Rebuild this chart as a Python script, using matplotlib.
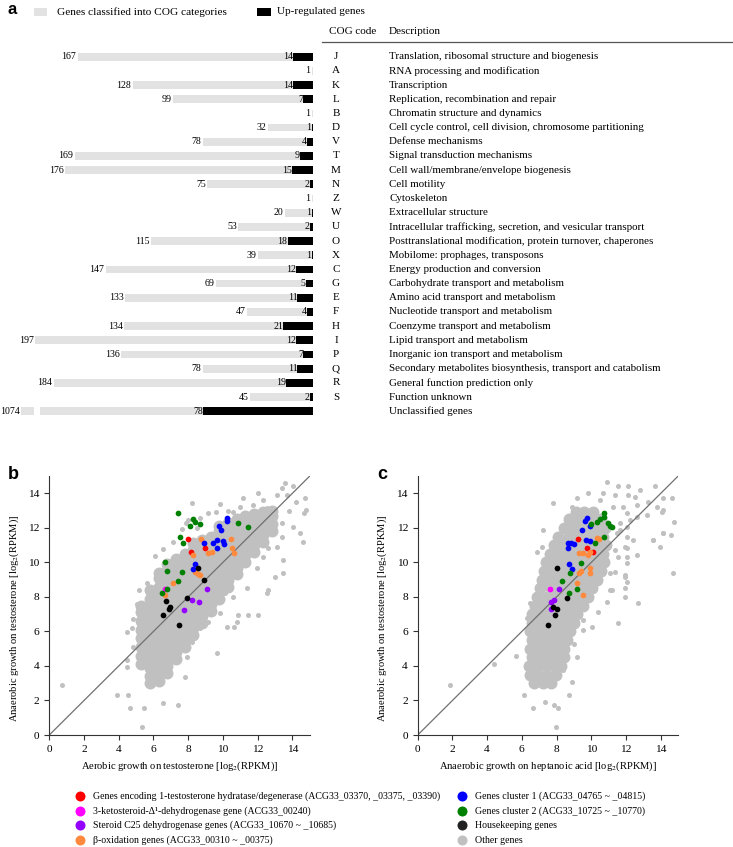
import matplotlib
matplotlib.use('Agg')
import matplotlib.pyplot as plt
from matplotlib.patches import Rectangle
from matplotlib.lines import Line2D
from matplotlib.transforms import blended_transform_factory

plt.rcParams['font.family'] = ['Liberation Serif', 'DejaVu Serif']
plt.rcParams['mathtext.fontset'] = 'stix'

# ---------------- data: panel a ----------------
cog_codes = ['J', 'A', 'K', 'L', 'B', 'D', 'V', 'T', 'M', 'N', 'Z', 'W', 'U',
             'O', 'X', 'C', 'G', 'E', 'F', 'H', 'I', 'P', 'Q', 'R', 'S', '']
cog_desc = ['Translation, ribosomal structure and biogenesis',
            'RNA processing and modification',
            'Transcription',
            'Replication, recombination and repair',
            'Chromatin structure and dynamics',
            'Cell cycle control, cell division, chromosome partitioning',
            'Defense mechanisms',
            'Signal transduction mechanisms',
            'Cell wall/membrane/envelope biogenesis',
            'Cell motility',
            'Cytoskeleton',
            'Extracellular structure',
            'Intracellular trafficking, secretion, and vesicular transport',
            'Posttranslational modification, protein turnover, chaperones',
            'Mobilome: prophages, transposons',
            'Energy production and conversion',
            'Carbohydrate transport and metabolism',
            'Amino acid transport and metabolism',
            'Nucleotide transport and metabolism',
            'Coenzyme transport and metabolism',
            'Lipid transport and metabolism',
            'Inorganic ion transport and metabolism',
            'Secondary metabolites biosynthesis, transport and catabolism',
            'General function prediction only',
            'Function unknown',
            'Unclassified genes']
cog_total = [167, 1, 128, 99, 1, 32, 78, 169, 176, 75, 1, 20, 53, 115, 39,
             147, 69, 133, 47, 134, 197, 136, 78, 184, 45, 1074]
cog_up = [14, 0, 14, 7, 0, 1, 4, 9, 15, 2, 0, 1, 2, 18, 1, 12, 5, 11, 4, 21,
          12, 7, 11, 19, 2, 78]

# ---------------- data: panels b and c (colored genes) ----------------
b_red = [(8.0, 11.35), (8.18, 10.6), (8.97, 10.82)]
b_magenta = [(6.68, 8.45)]
b_purple = [(9.07, 8.44), (8.24, 7.85), (8.64, 7.7), (7.77, 7.27)]
b_orange = [(8.73, 11.34), (8.3, 10.42), (9.13, 10.55), (9.4, 10.62), (10.45, 11.37),
            (10.5, 10.82), (10.62, 10.52), (8.42, 9.42), (8.68, 9.27), (8.55, 9.35),
            (7.1, 8.78), (6.64, 8.11)]
b_blue = [(10.22, 12.58), (10.26, 12.42), (9.79, 12.13), (9.88, 11.86), (8.92, 11.15),
          (9.41, 11.14), (9.64, 11.3), (10.01, 11.25), (10.05, 11.08), (9.68, 10.83),
          (8.39, 9.9), (8.25, 9.63)]
b_green = [(7.43, 12.84), (8.26, 12.5), (8.39, 12.36), (8.1, 12.13), (8.68, 12.21),
           (10.85, 12.3), (11.46, 12.03), (7.53, 11.45), (7.72, 11.14), (6.66, 10.02),
           (6.76, 9.52), (7.63, 9.43), (7.43, 8.94), (6.5, 8.2), (6.76, 8.45)]
b_black = [(8.58, 9.67), (8.92, 8.96), (7.91, 7.93), (6.7, 7.75), (6.93, 7.4),
           (6.92, 7.3), (6.57, 6.95), (7.47, 6.37)]

c_red = [(9.26, 11.34), (9.74, 10.82), (10.12, 10.62)]
c_magenta = [(7.6, 8.45)]
c_purple = [(8.16, 8.45), (7.87, 7.85), (7.66, 7.72), (7.66, 7.28)]
c_orange = [(10.3, 11.39), (10.47, 11.33), (9.31, 10.56), (9.54, 10.56), (9.83, 10.42),
            (9.93, 10.6), (9.93, 9.69), (9.93, 9.36), (9.31, 9.4), (9.4, 9.5),
            (9.16, 8.82), (9.51, 8.11)]
c_blue = [(9.73, 12.57), (9.65, 12.42), (9.9, 12.12), (9.47, 11.85), (8.85, 11.15),
          (8.68, 11.1), (8.98, 11.08), (8.68, 10.82), (9.72, 11.28), (9.93, 11.24),
          (8.7, 9.92), (8.88, 9.62)]
c_green = [(10.73, 12.84), (10.75, 12.65), (10.35, 12.36), (10.5, 12.5), (9.99, 12.22),
           (10.98, 12.26), (11.08, 12.13), (11.17, 12.03), (10.75, 11.45), (10.21, 11.1),
           (9.38, 9.99), (8.77, 9.4), (8.33, 8.94), (9.2, 8.46), (8.73, 8.21)]
c_black = [(8.05, 9.69), (8.58, 7.94), (7.78, 7.42), (8.0, 7.28), (7.9, 6.95), (7.48, 6.37)]

# ---------------- data: other genes (dense core read as columns / rows) ----------------
b_core_cols = [
    (5.3, [4.1, 4.6, 5.1, 5.6, 6.1, 6.6, 7.1, 7.5]),
    (5.8, [3.0, 3.4, 3.9, 4.4, 4.9, 5.4, 5.9, 6.4, 6.9, 7.4, 7.9, 8.4]),
    (6.3, [3.1, 3.6, 4.1, 4.6, 5.1, 5.6, 6.1, 6.6, 7.1, 7.6, 8.1, 8.6, 9.1, 9.4]),
    (6.8, [3.6, 4.0, 4.5, 5.0, 5.5, 6.0, 6.5, 7.0, 7.5, 8.0, 8.5, 9.0, 9.5, 9.9]),
    (7.3, [4.4, 4.8, 5.3, 5.8, 6.3, 6.8, 7.3, 7.8, 8.3, 8.8, 9.3, 9.8, 10.2]),
    (7.8, [5.1, 5.5, 6.0, 6.5, 7.0, 7.5, 8.0, 8.5, 9.0, 9.5, 10.0, 10.5]),
    (8.3, [5.8, 6.2, 6.7, 7.2, 7.7, 8.2, 8.7, 9.2, 9.7, 10.2, 10.7, 11.1]),
    (8.8, [6.5, 6.9, 7.4, 7.9, 8.4, 8.9, 9.4, 9.9, 10.4, 10.9, 11.3]),
    (9.3, [7.2, 7.6, 8.1, 8.6, 9.1, 9.6, 10.1, 10.6, 11.1, 11.5]),
    (9.8, [7.9, 8.3, 8.8, 9.3, 9.8, 10.3, 10.8, 11.3, 11.8, 12.1]),
    (10.3, [8.6, 9.0, 9.5, 10.0, 10.5, 11.0, 11.5, 12.0, 12.3]),
    (10.8, [9.3, 9.7, 10.2, 10.7, 11.2, 11.7, 12.2, 12.5]),
    (11.3, [10.0, 10.4, 10.9, 11.4, 11.9, 12.4, 12.7]),
    (11.8, [10.6, 11.0, 11.5, 12.0, 12.5, 12.8]),
    (12.3, [11.2, 11.6, 12.1, 12.6, 12.9]),
    (12.8, [11.8, 12.2, 12.7, 13.0]),
]
b_sparse = [(13.58, 14.58), (14.06, 14.42), (13.39, 14.29), (12.04, 14.0), (13.1, 13.9),
            (13.67, 13.9), (11.14, 13.71), (10.6, 12.93), (9.83, 13.38), (9.16, 12.84),
            (8.2, 13.42), (11.75, 13.32), (12.52, 13.13), (12.33, 13.61), (14.73, 13.71),
            (14.79, 13.03), (14.67, 12.84), (14.06, 12.07), (14.44, 11.68), (14.6, 11.2),
            (13.39, 11.49), (13.1, 10.91), (13.48, 10.14), (13.44, 9.4), (13.0, 9.17),
            (12.62, 8.4), (12.52, 8.2), (12.04, 6.95), (11.46, 6.95), (10.89, 6.95),
            (10.79, 6.56), (10.66, 6.27), (10.22, 6.27), (9.64, 4.73), (9.16, 6.56),
            (9.83, 7.05), (10.6, 8.01), (11.37, 8.49), (11.94, 9.65), (12.33, 10.33),
            (12.62, 10.81), (12.14, 11.2), (12.9, 12.07), (13.39, 12.26), (12.52, 11.78),
            (11.75, 11.49), (11.37, 10.91), (10.99, 10.14), (10.7, 9.46), (10.41, 8.98),
            (10.12, 8.2), (9.83, 7.92), (9.26, 7.24), (8.78, 6.76), (8.68, 6.18),
            (8.2, 5.41), (7.91, 4.54), (7.82, 3.38), (7.43, 1.74), (6.57, 1.87),
            (5.45, 1.54), (5.32, 0.44), (4.65, 1.54), (4.55, 2.32), (3.88, 2.32),
            (0.73, 2.9), (4.49, 3.96), (4.46, 4.34), (4.84, 5.12), (4.46, 5.98),
            (4.74, 6.18), (4.84, 6.7), (5.19, 8.4), (5.61, 8.78), (6.09, 10.37),
            (6.57, 10.75), (7.14, 11.2), (7.62, 11.91), (8.0, 12.45), (6.18, 8.98),
            (5.9, 8.2), (6.76, 9.56), (8.7, 12.6), (9.6, 12.9), (10.3, 13.0),
            (11.0, 13.2), (13.8, 13.0), (14.2, 13.5), (13.0, 12.9), (7.9, 12.3),
            (8.5, 12.0), (5.05, 7.6)]

c_core_rows = [
    (3.0, [6.7, 7.2, 7.7]),
    (3.5, [6.45, 6.95, 7.45, 7.95]),
    (4.0, [6.4, 6.9, 7.4, 7.9, 8.25]),
    (4.5, [6.6, 7.1, 7.6, 8.1, 8.45]),
    (5.0, [6.45, 6.95, 7.45, 7.95, 8.45]),
    (5.5, [6.6, 7.1, 7.6, 8.1, 8.6]),
    (6.0, [6.45, 6.95, 7.45, 7.95, 8.45, 8.8]),
    (6.5, [6.6, 7.1, 7.6, 8.1, 8.6, 9.0]),
    (7.0, [6.6, 6.95, 7.45, 7.95, 8.45, 8.95, 9.2]),
    (7.5, [6.75, 7.2, 7.7, 8.2, 8.7, 9.2, 9.5]),
    (8.0, [6.9, 7.45, 7.95, 8.45, 8.95, 9.45, 9.8]),
    (8.5, [7.05, 7.7, 8.2, 8.7, 9.2, 9.7, 10.05]),
    (9.0, [7.15, 7.45, 7.95, 8.45, 8.95, 9.45, 9.95, 10.35]),
    (9.5, [7.25, 7.7, 8.2, 8.7, 9.2, 9.7, 10.2, 10.55]),
    (10.0, [7.4, 7.95, 8.45, 8.95, 9.45, 9.95, 10.45, 10.75]),
    (10.5, [7.6, 8.2, 8.7, 9.2, 9.7, 10.2, 10.65]),
    (11.0, [7.85, 8.45, 8.95, 9.45, 9.95, 10.45, 10.85]),
    (11.5, [8.1, 8.7, 9.2, 9.7, 10.2, 10.7]),
    (12.0, [8.4, 8.95, 9.45, 9.95, 10.45, 10.8]),
    (12.5, [8.7, 9.2, 9.7, 10.2, 10.55]),
    (12.9, [9.1, 9.6, 10.1]),
]
c_sparse = [(10.89, 14.67), (11.56, 14.42), (12.14, 14.42), (12.81, 14.19), (13.67, 14.42),
            (14.15, 13.71), (13.77, 13.22), (14.63, 13.71), (14.77, 12.36), (14.6, 11.58),
            (14.15, 11.68), (13.58, 11.29), (14.1, 12.93), (13.19, 12.74), (12.62, 12.64),
            (12.23, 12.45), (11.85, 13.22), (11.37, 13.9), (10.7, 14.0), (10.5, 13.6),
            (9.83, 14.0), (9.16, 13.71), (8.87, 13.22), (7.82, 13.46), (7.24, 11.87),
            (7.14, 10.91), (6.86, 10.62), (6.86, 8.59), (6.47, 7.63), (6.28, 6.76),
            (5.65, 4.58), (4.4, 4.11), (1.86, 2.9), (6.13, 2.32), (6.63, 1.54),
            (7.34, 1.93), (7.85, 1.74), (8.1, 1.54), (7.95, 0.44), (8.72, 2.32),
            (8.87, 3.09), (8.39, 3.76), (9.16, 4.54), (9.0, 5.3), (9.54, 6.08),
            (10.02, 6.27), (10.41, 7.14), (9.54, 6.66), (10.89, 7.72), (11.08, 8.4),
            (11.56, 6.47), (11.94, 8.01), (11.94, 8.5), (12.04, 8.88), (11.94, 9.27),
            (11.37, 9.46), (12.71, 7.66), (11.37, 10.71), (12.04, 10.81), (12.43, 11.29),
            (12.04, 11.49), (11.66, 11.87), (12.62, 10.42), (12.04, 10.33), (14.73, 9.4),
            (13.96, 10.91), (11.27, 13.22), (12.04, 12.07), (12.14, 13.9), (12.52, 13.8),
            (13.29, 13.51), (12.61, 13.33), (12.04, 12.84), (11.65, 12.26), (11.46, 11.68),
            (11.94, 10.91), (11.56, 10.33), (12.04, 9.95), (11.94, 9.17), (11.17, 8.4),
            (11.08, 9.37), (14.13, 11.7), (13.56, 11.3), (14.15, 13.04)]

# ---------------- layout helpers (pixels -> figure fraction) ----------------
W, H = 733, 847
fig = plt.figure(figsize=(W / 100, H / 100), dpi=100)


def fx(px):
    return px / W


def fy(py):
    return 1 - py / H


BAR_GRAY = '#e2e2e2'
DOT_GRAY = '#c0c0c0'

# ---------------- panel a ----------------
row_top, row_step = 56.7, 14.18
n_rows = len(cog_codes)
ax_top = row_top - 0.5 * row_step
ax_bot = row_top + (n_rows - 0.5) * row_step
ax_a = fig.add_axes([0, fy(ax_bot), fx(313), (ax_bot - ax_top) / H])
px_per_unit = 1.41
ax_a.set_xlim(313 / px_per_unit, 0)
ax_a.set_ylim(n_rows - 0.5, -0.5)
ax_a.axis('off')

bh = 0.55
lab_fs = 7.1
for i, (tot, up) in enumerate(zip(cog_total, cog_up)):
    if cog_codes[i] == '':
        # broken bar for the unclassified genes
        ax_a.barh(i, 193.6, height=bh, color=BAR_GRAY, lw=0)
        ax_a.barh(i, 207.0 - 198.2, left=198.2, height=bh, color=BAR_GRAY, lw=0)
        tot_end = 207.0
    else:
        ax_a.barh(i, tot, height=bh, color=BAR_GRAY, lw=0)
        tot_end = tot
    ax_a.text(tot_end + 1.0, i, str(tot), ha='right', va='center', fontsize=lab_fs)
    if up > 0:
        ax_a.barh(i, up, height=bh, color='black', lw=0)
        ax_a.text(up + 0.2, i, str(up), ha='right', va='center', fontsize=lab_fs)

tr = blended_transform_factory(fig.transFigure, ax_a.transData)
for i, (code, desc) in enumerate(zip(cog_codes, cog_desc)):
    ax_a.text(fx(336), i, code, transform=tr, ha='center', va='center', fontsize=8.0)
    ax_a.text(fx(389), i, desc, transform=tr, ha='left', va='center', fontsize=7.9)

# panel a legend and header
fig.text(fx(7), fy(9), 'a', fontsize=12, fontweight='bold', family='Liberation Sans',
         ha='left', va='center')
fig.add_artist(Rectangle((fx(34), fy(16)), fx(13), 8 / H, transform=fig.transFigure,
                         color=BAR_GRAY, lw=0))
fig.text(fx(57), fy(12), 'Genes classified into COG categories', fontsize=8.1, va='center')
fig.add_artist(Rectangle((fx(257), fy(16)), fx(14), 8 / H, transform=fig.transFigure,
                         color='black', lw=0))
fig.text(fx(277), fy(12), 'Up-regulated genes', fontsize=8.1, va='center')
fig.text(fx(329), fy(31), 'COG code', fontsize=8.0, va='center')
fig.text(fx(389), fy(31), 'Description', fontsize=8.0, va='center')
fig.add_artist(Line2D([fx(322), 1.0], [fy(41.7), fy(41.7)], transform=fig.transFigure,
                      color='#555555', lw=0.9))


# ---------------- panels b and c ----------------
def draw_scatter(ax, core_pts, sparse_pts, colored, xlabel, letter, letter_px):
    cx = [p[0] for p in core_pts]
    cy = [p[1] for p in core_pts]
    ax.scatter(cx, cy, s=74, color=DOT_GRAY, lw=0, zorder=1)
    sx = [p[0] for p in sparse_pts]
    sy = [p[1] for p in sparse_pts]
    ax.scatter(sx, sy, s=13, color=DOT_GRAY, lw=0, zorder=1)
    ax.plot([0, 15], [0, 15], color='#707070', lw=0.9, zorder=2)
    for pts, col in colored:
        ax.scatter([p[0] for p in pts], [p[1] for p in pts], s=17, color=col, lw=0,
                   zorder=3)
    ax.set_xlim(0, 15)
    ax.set_ylim(0, 15)
    ax.set_xticks(range(0, 15, 2))
    ax.set_yticks(range(0, 15, 2))
    for s in ('top', 'right'):
        ax.spines[s].set_visible(False)
    for s in ('left', 'bottom'):
        ax.spines[s].set_linewidth(0.8)
        ax.spines[s].set_color('#333333')
    ax.tick_params(direction='out', length=3.5, width=0.8, labelsize=8.2, color='#333333')
    ax.set_xlabel(xlabel, fontsize=7.6)
    ax.set_ylabel('Anaerobic growth on testosterone [log$_2$(RPKM)]', fontsize=7.6)
    ax.xaxis.set_label_coords(0.5, -0.095)
    ax.yaxis.set_label_coords(-0.11, 0.45)
    fig.text(fx(letter_px[0]), fy(letter_px[1]), letter, fontsize=13, fontweight='bold',
             family='Liberation Sans', ha='left', va='center')


def expand_cols(cols):
    return [(x, y) for x, ys in cols for y in ys]


def expand_rows(rows):
    return [(x, y) for y, xs in rows for x in xs]


ax_b = fig.add_axes([fx(49.3), fy(735), (309.7 - 49.3) / W, (735 - 476.1) / H])
draw_scatter(ax_b, expand_cols(b_core_cols), b_sparse,
             [(b_red, '#ff0000'), (b_magenta, '#ff00ff'), (b_purple, '#9400ff'),
              (b_orange, '#ff8a3d'), (b_blue, '#0000ff'), (b_green, '#008000'),
              (b_black, '#000000')],
             'Aerobic growth on testosterone [log$_2$(RPKM)]', 'b', (8, 474))

ax_c = fig.add_axes([fx(417.7), fy(735), (678.1 - 417.7) / W, (735 - 476.1) / H])
draw_scatter(ax_c, expand_rows(c_core_rows), c_sparse,
             [(c_red, '#ff0000'), (c_magenta, '#ff00ff'), (c_purple, '#9400ff'),
              (c_orange, '#ff8a3d'), (c_blue, '#0000ff'), (c_green, '#008000'),
              (c_black, '#000000')],
             'Anaerobic growth on heptanoic acid [log$_2$(RPKM)]', 'c', (377, 474))

# ---------------- bottom legend ----------------
legend_left = [('#ff0000', 'Genes encoding 1-testosterone hydratase/degenerase (ACG33_03370, _03375, _03390)'),
               ('#ff00ff', '3-ketosteroid-Δ¹-dehydrogenase gene (ACG33_00240)'),
               ('#9400ff', 'Steroid C25 dehydrogenase genes (ACG33_10670 ~ _10685)'),
               ('#ff8a3d', 'β-oxidation genes (ACG33_00310 ~ _00375)')]
legend_right = [('#0000ff', 'Genes cluster 1 (ACG33_04765 ~ _04815)'),
                ('#008000', 'Genes cluster 2 (ACG33_10725 ~ _10770)'),
                ('#222222', 'Housekeeping genes'),
                (DOT_GRAY, 'Other genes')]
leg_y = [795.7, 810.7, 825.3, 840.0]
for (col, lab), yy in zip(legend_left, leg_y):
    fig.add_artist(Line2D([fx(80)], [fy(yy)], marker='o', ms=7.2, color=col, lw=0,
                          markeredgewidth=0, transform=fig.transFigure))
    fig.text(fx(93), fy(yy), lab, fontsize=7.1, va='center')
for (col, lab), yy in zip(legend_right, leg_y):
    fig.add_artist(Line2D([fx(462)], [fy(yy)], marker='o', ms=7.2, color=col, lw=0,
                          markeredgewidth=0, transform=fig.transFigure))
    fig.text(fx(475), fy(yy), lab, fontsize=7.1, va='center')

fig.savefig('out.png', dpi=100)
